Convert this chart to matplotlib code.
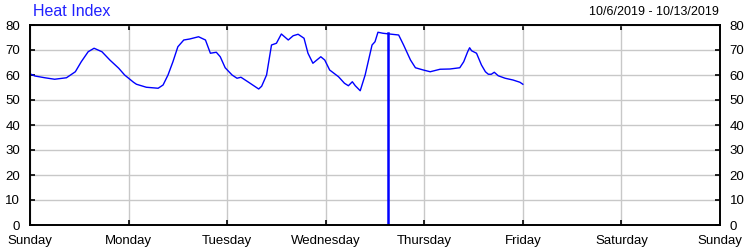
import numpy as np
import matplotlib.pyplot as plt

plt.rcParams['font.family'] = ['Liberation Sans', 'DejaVu Sans']

# time in days since Sunday 10/6/2019 00:00, heat index values
t = np.array([0.01, 0.05, 0.15, 0.25, 0.37, 0.46, 0.52, 0.59, 0.65, 0.73,
              0.81, 0.90, 0.96, 1.05, 1.08, 1.18, 1.30, 1.35, 1.40, 1.45,
              1.50, 1.56, 1.62, 1.71, 1.78, 1.83, 1.89, 1.93, 1.98, 2.05,
              2.10, 2.14, 2.21, 2.32, 2.35, 2.40, 2.45, 2.50, 2.55, 2.62,
              2.67, 2.72, 2.78, 2.82, 2.87, 2.95, 2.99, 3.04, 3.13, 3.19,
              3.23, 3.27, 3.30, 3.35, 3.40, 3.47, 3.50, 3.53, 3.58, 3.67,
              3.74, 3.79, 3.86, 3.91, 3.99, 4.06, 4.16, 4.26, 4.36, 4.40,
              4.44, 4.46, 4.48, 4.53, 4.58, 4.62, 4.65, 4.68, 4.71, 4.75,
              4.82, 4.90, 4.97, 5.00])
heat = np.array([60.3, 59.6, 58.9, 58.3, 58.9, 61.3, 65.3, 69.3, 70.7, 69.3,
                 66.0, 62.7, 60.0, 57.1, 56.3, 55.1, 54.7, 56.0, 60.0, 65.3,
                 71.3, 74.0, 74.4, 75.3, 74.0, 68.7, 69.1, 67.3, 62.9, 60.0,
                 58.7, 59.1, 57.3, 54.4, 55.5, 60.0, 72.0, 72.7, 76.4, 74.0,
                 75.7, 76.3, 74.7, 68.7, 64.7, 67.3, 66.0, 62.0, 59.3, 56.7,
                 55.7, 57.3, 55.7, 53.7, 60.0, 72.0, 73.3, 77.1, 76.7, 76.3,
                 76.0, 72.0, 66.0, 62.9, 62.0, 61.3, 62.3, 62.4, 62.9, 65.3,
                 69.3, 70.9, 69.7, 68.7, 64.0, 61.3, 60.3, 60.3, 61.1, 59.7,
                 58.7, 58.0, 57.1, 56.3])

# marker bar
mark_t = 3.628
mark_val = 76.7

days = ["Sunday", "Monday", "Tuesday", "Wednesday", "Thursday",
        "Friday", "Saturday", "Sunday"]
yticks = [0, 10, 20, 30, 40, 50, 60, 70, 80]

fig = plt.figure(figsize=(7.5, 2.5), dpi=100)
ax = fig.add_axes([0.04, 0.1, 0.92, 0.8])

ax.plot(t, heat, color='#0000ff', lw=1.0)
ax.plot([mark_t, mark_t], [0, mark_val], color='#0000ff', lw=1.8)

ax.set_xlim(0, 7)
ax.set_ylim(0, 80)
ax.set_xticks(range(len(days)))
ax.set_xticklabels(days)
ax.set_yticks(yticks)
ax.grid(True, color='#c8c8c8', lw=1.0)
ax.set_axisbelow(True)

for s in ax.spines.values():
    s.set_linewidth(1.4)
    s.set_color('black')

ax.tick_params(axis='both', direction='in', length=3.5, width=1.2,
               top=True, right=True, labelright=True, labelsize=9.5)
ax.tick_params(axis='x', pad=7)
ax.tick_params(axis='y', pad=7)

fig.text(0.044, 0.952, "Heat Index", color='#2020ff', fontsize=11.5,
         ha='left', va='center')
fig.text(0.958, 0.952, "10/6/2019 - 10/13/2019", color='black', fontsize=9,
         ha='right', va='center')

fig.savefig("out.png", dpi=100)
